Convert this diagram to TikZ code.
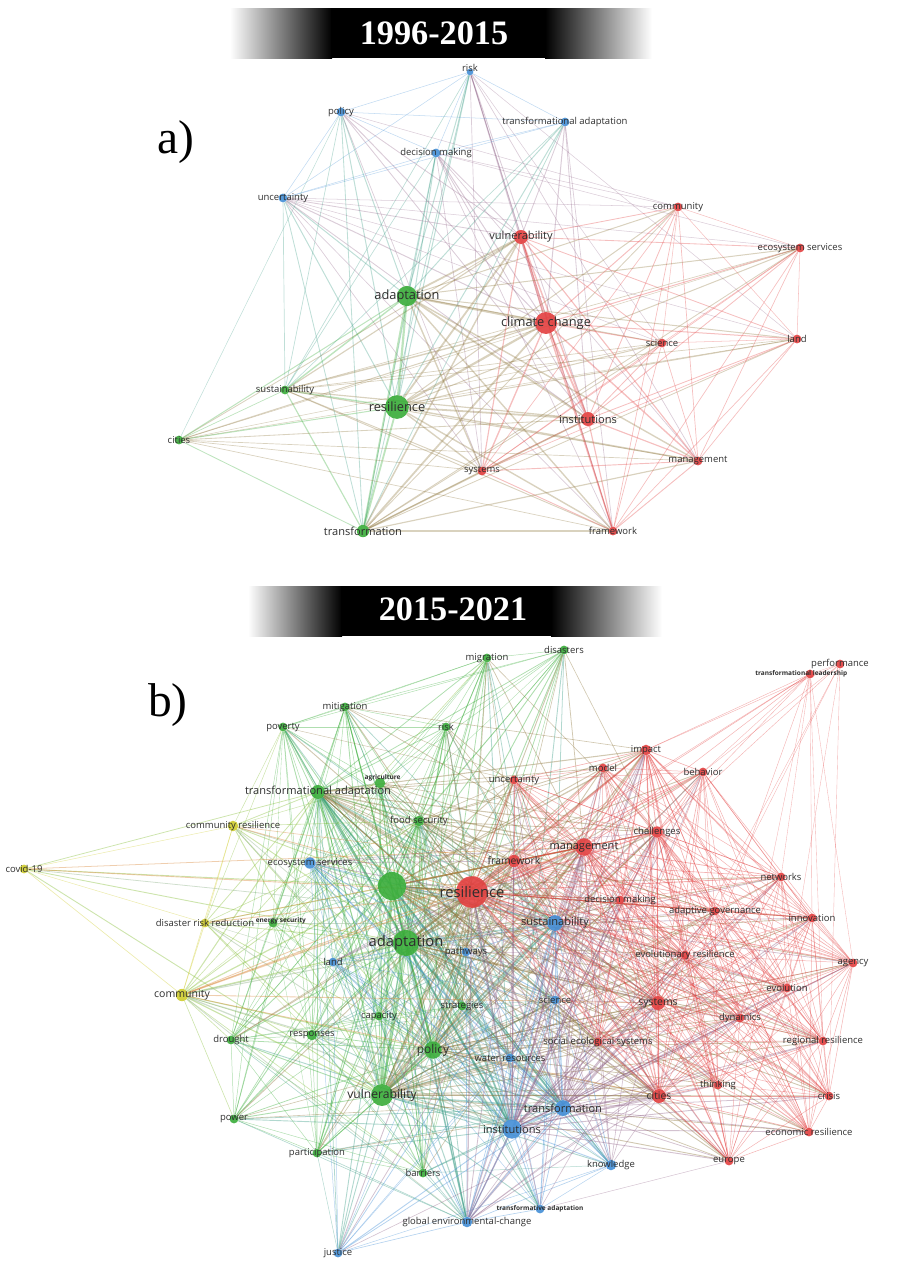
\documentclass[tikz,border=0pt]{standalone}
\usepackage{fontspec}
\setmainfont{Liberation Serif}
\newfontfamily\vos{Open Sans}
\usetikzlibrary{backgrounds}
\definecolor{vosred}{RGB}{226,62,62}
\definecolor{vosgreen}{RGB}{56,172,56}
\definecolor{vosblue}{RGB}{66,142,214}
\definecolor{vosyellow}{RGB}{206,204,44}
\tikzset{
  kw/.style={circle, inner sep=0pt, fill opacity=.9},
  kwR/.style={kw, fill=vosred},
  kwG/.style={kw, fill=vosgreen},
  kwB/.style={kw, fill=vosblue},
  kwY/.style={kw, fill=vosyellow},
  dotT/.style={minimum size=3.8pt},
  dotS/.style={minimum size=5pt},
  dotM/.style={minimum size=8pt},
  dotL/.style={minimum size=12.5pt},
  dotXL/.style={minimum size=17pt},
  lbl/.style={inner sep=0pt, text=black!82, text opacity=1, fill opacity=1},
  lblT/.style={lbl, font=\vos\bfseries\fontsize{3.7}{4}\selectfont},
  lblS/.style={lbl, font=\vos\fontsize{5.4}{6}\selectfont},
  lblM/.style={lbl, font=\vos\fontsize{6.3}{7}\selectfont},
  lblL/.style={lbl, font=\vos\fontsize{7.3}{8}\selectfont},
  lblXL/.style={lbl, font=\vos\fontsize{8.4}{9}\selectfont},
  eg/.style={draw opacity=.33, line cap=round},
  egb/.style={draw opacity=.4, line cap=round},
  yearlbl/.style={text=white, font=\bfseries\fontsize{19.5}{22}\selectfont},
  panellbl/.style={font=\fontsize{27}{30}\selectfont},
}
% keyword/colour/weight, for the links
\def\kwA{aRisk/vosblue/2, aPol/vosblue/2, aTA/vosblue/2, aDM/vosblue/2, aUnc/vosblue/2,
  aCom/vosred/2, aVul/vosred/4, aEco/vosred/2, aAda/vosgreen/5, aClim/vosred/5,
  aSci/vosred/2, aLand/vosred/2, aSus/vosgreen/3, aRes/vosgreen/5, aInst/vosred/4,
  aCit/vosgreen/2, aSys/vosred/3, aMan/vosred/3, aTra/vosgreen/4, aFra/vosred/3}
\def\kwB{bMig/vosgreen/2, bDis/vosgreen/2, bMit/vosgreen/2, bPov/vosgreen/2, bRisk/vosgreen/2,
  bAgr/vosgreen/2, bTA/vosgreen/4, bFood/vosgreen/3, bClim/vosgreen/5, bEner/vosgreen/1,
  bAda/vosgreen/5, bStr/vosgreen/2, bCap/vosgreen/2, bResp/vosgreen/2, bPol/vosgreen/4,
  bDro/vosgreen/2, bVul/vosgreen/5, bPow/vosgreen/2, bPart/vosgreen/2, bBar/vosgreen/2,
  bCR/vosyellow/2, bCov/vosyellow/2, bDRR/vosyellow/2, bCom/vosyellow/3,
  bEco/vosblue/2, bLand/vosblue/2, bPath/vosblue/2, bSus/vosblue/4, bSci/vosblue/2,
  bWat/vosblue/2, bTrf/vosblue/4, bInst/vosblue/5, bKno/vosblue/2, bGEC/vosblue/3,
  bTAd/vosblue/2, bJus/vosblue/2,
  bPerf/vosred/1, bTL/vosred/1, bImp/vosred/3, bMod/vosred/2, bBeh/vosred/2,
  bUnc/vosred/2, bCha/vosred/3, bMan/vosred/4, bFra/vosred/3, bRes/vosred/5,
  bNet/vosred/2, bDM/vosred/2, bAG/vosred/2, bInn/vosred/2, bEvR/vosred/2,
  bAge/vosred/2, bEvo/vosred/2, bSys/vosred/3, bDyn/vosred/2, bSES/vosred/2,
  bRR/vosred/2, bThi/vosred/2, bCit/vosred/3, bCri/vosred/2, bER/vosred/2, bEur/vosred/2}

\begin{document}
\begin{tikzpicture}[x=0.02cm, y=-0.02cm]
  \useasboundingbox (0,0) rectangle (902,1276);
  \pgfmathsetseed{11}

  % title bars
  \shade[left color=white, right color=black] (230,8) rectangle (332,58);
  \fill[black] (331,8) rectangle (546,58);
  \shade[left color=black, right color=white] (545,8) rectangle (652,58);
  \node[yearlbl] (yearA) at (434,33) {1996-2015};
  \shade[left color=white, right color=black] (248,586) rectangle (342,636);
  \fill[black] (341,586) rectangle (552,636);
  \shade[left color=black, right color=white] (551,586) rectangle (662,636);
  \node[yearlbl] (yearB) at (453,609) {2015-2021};
  \node[panellbl] (panA) at (176,142) {a)};
  \node[panellbl] (panB) at (168,705) {b)};

  % ---- a) 1996-2015
  \node[kwB, dotT, label={[lblS, yshift=2.5pt]center:risk}] (aRisk) at (470,72) {};
  \node[kwB, dotS, label={[lblS]center:policy}] (aPol) at (341,112) {};
  \node[kwB, dotS, label={[lblS]center:transformational adaptation}] (aTA) at (565,122) {};
  \node[kwB, dotS, label={[lblS]center:decision making}] (aDM) at (436,153) {};
  \node[kwB, dotS, label={[lblS]center:uncertainty}] (aUnc) at (283,198) {};
  \node[kwR, dotS, label={[lblS]center:community}] (aCom) at (678,207) {};
  \node[kwR, dotM, label={[lblM]center:vulnerability}] (aVul) at (521,237) {};
  \node[kwR, dotS, label={[lblS]center:ecosystem services}] (aEco) at (800,248) {};
  \node[kwG, dotL, minimum size=11.5pt, label={[lblL]center:adaptation}] (aAda) at (407,296) {};
  \node[kwR, dotL, label={[lblL]center:climate change}] (aClim) at (546,323) {};
  \node[kwR, dotS, label={[lblS]center:science}] (aSci) at (662,343) {};
  \node[kwR, dotS, label={[lblS]center:land}] (aLand) at (797,339) {};
  \node[kwG, dotS, label={[lblS]center:sustainability}] (aSus) at (285,390) {};
  \node[kwG, dotL, minimum size=13.5pt, label={[lblL]center:resilience}] (aRes) at (397,407) {};
  \node[kwR, dotM, label={[lblM]center:institutions}] (aInst) at (588,419) {};
  \node[kwG, dotS, label={[lblS]center:cities}] (aCit) at (179,440) {};
  \node[kwR, dotS, label={[lblS]center:systems}] (aSys) at (482,471) {};
  \node[kwR, dotS, label={[lblS]center:management}] (aMan) at (698,461) {};
  \node[kwG, dotM, minimum size=7pt, label={[lblM]center:transformation}] (aTra) at (363,531) {};
  \node[kwR, dotS, label={[lblS]center:framework}] (aFra) at (613,531) {};

  % ---- b) 2015-2021
  \node[kwG, dotS, label={[lblS]center:migration}] (bMig) at (487,658) {};
  \node[kwG, dotS, label={[lblS]center:disasters}] (bDis) at (564,650) {};
  \node[kwG, dotS, label={[lblS]center:mitigation}] (bMit) at (345,707) {};
  \node[kwG, dotS, label={[lblS]center:poverty}] (bPov) at (283,727) {};
  \node[kwG, dotS, label={[lblS]center:risk}] (bRisk) at (446,727) {};
  \node[kwG, dotS, minimum size=6pt, label={[lblT, yshift=-2.5pt, xshift=1.5pt]above:agriculture}] (bAgr) at (380,783) {};
  \node[kwG, dotM, label={[lblM]center:transformational adaptation}] (bTA) at (318,792) {};
  \node[kwG, dotS, minimum size=6pt, label={[lblS]center:food security}] (bFood) at (419,821) {};
  \node[kwG, dotXL, minimum size=16pt] (bClim) at (392,886) {};
  \node[kwG, dotS, label={[lblT, xshift=4.5pt, yshift=1.5pt]center:energy security}] (bEner) at (273,923) {};
  \node[kwG, dotXL, minimum size=15pt, label={[lblXL]center:adaptation}] (bAda) at (406,943) {};
  \node[kwG, dotS, label={[lblS]center:strategies}] (bStr) at (462,1006) {};
  \node[kwG, dotS, label={[lblS]center:capacity}] (bCap) at (379,1016) {};
  \node[kwG, dotS, minimum size=6pt, label={[lblS]center:responses}] (bResp) at (312,1035) {};
  \node[kwG, dotM, minimum size=10pt, label={[lblM, font=\vos\fontsize{6.8}{7}\selectfont]center:policy}] (bPol) at (433,1050) {};
  \node[kwG, dotS, label={[lblS]center:drought}] (bDro) at (231,1040) {};
  \node[kwG, dotL, label={[lblM, font=\vos\fontsize{6.9}{7}\selectfont]center:vulnerability}] (bVul) at (382,1095) {};
  \node[kwG, dotS, label={[lblS]center:power}] (bPow) at (234,1119) {};
  \node[kwG, dotS, label={[lblS]center:participation}] (bPart) at (317,1153) {};
  \node[kwG, dotS, label={[lblS]center:barriers}] (bBar) at (423,1173) {};
  \node[kwY, dotS, minimum size=6pt, label={[lblS]center:community resilience}] (bCR) at (233,826) {};
  \node[kwY, dotS, label={[lblS]center:covid-19}] (bCov) at (24,869) {};
  \node[kwY, dotS, label={[lblS]center:disaster risk reduction}] (bDRR) at (205,923) {};
  \node[kwY, dotM, minimum size=7pt, label={[lblS, font=\vos\fontsize{6}{7}\selectfont]center:community}] (bCom) at (182,995) {};
  \node[kwB, dotS, minimum size=6.5pt, label={[lblS]center:ecosystem services}] (bEco) at (310,863) {};
  \node[kwB, dotS, label={[lblS]center:land}] (bLand) at (333,962) {};
  \node[kwB, dotS, label={[lblS]center:pathways}] (bPath) at (466,952) {};
  \node[kwB, dotM, minimum size=9pt, label={[lblM]center:sustainability}] (bSus) at (555,923) {};
  \node[kwB, dotS, label={[lblS]center:science}] (bSci) at (555,1000) {};
  \node[kwB, dotS, label={[lblS]center:water resources}] (bWat) at (510,1058) {};
  \node[kwB, dotM, minimum size=9pt, label={[lblM]center:transformation}] (bTrf) at (563,1108) {};
  \node[kwB, dotL, minimum size=11pt, label={[lblM]center:institutions}] (bInst) at (512,1129) {};
  \node[kwB, dotS, minimum size=6pt, label={[lblS]center:knowledge}] (bKno) at (611,1165) {};
  \node[kwB, dotS, minimum size=6pt, label={[lblS]center:global environmental-change}] (bGEC) at (467,1222) {};
  \node[kwB, dotS, label={[lblT]center:transformative adaptation}] (bTAd) at (540,1209) {};
  \node[kwB, dotS, label={[lblS]center:justice}] (bJus) at (338,1253) {};
  \node[kwR, dotS, label={[lblS]center:performance}] (bPerf) at (840,664) {};
  \node[kwR, dotS, label={[lblT, xshift=-5pt]center:transformational leadership}] (bTL) at (810,674) {};
  \node[kwR, dotS, minimum size=6pt, label={[lblS]center:impact}] (bImp) at (646,750) {};
  \node[kwR, dotS, label={[lblS]center:model}] (bMod) at (603,768) {};
  \node[kwR, dotS, label={[lblS]center:behavior}] (bBeh) at (703,772) {};
  \node[kwR, dotS, label={[lblS]center:uncertainty}] (bUnc) at (514,780) {};
  \node[kwR, dotS, minimum size=6.5pt, label={[lblS]center:challenges}] (bCha) at (657,832) {};
  \node[kwR, dotM, minimum size=10pt, label={[lblM]center:management}] (bMan) at (584,847) {};
  \node[kwR, dotM, minimum size=7pt, label={[lblS, font=\vos\fontsize{5.9}{7}\selectfont]center:framework}] (bFra) at (514,861) {};
  \node[kwR, dotXL, minimum size=18pt, label={[lblXL]center:resilience}] (bRes) at (472,892) {};
  \node[kwR, dotS, label={[lblS]center:networks}] (bNet) at (781,877) {};
  \node[kwR, dotS, label={[lblS]center:decision making}] (bDM) at (620,900) {};
  \node[kwR, dotS, label={[lblS]center:adaptive governance}] (bAG) at (715,911) {};
  \node[kwR, dotS, label={[lblS]center:innovation}] (bInn) at (812,918) {};
  \node[kwR, dotS, label={[lblS]center:evolutionary resilience}] (bEvR) at (685,955) {};
  \node[kwR, dotS, label={[lblS]center:agency}] (bAge) at (853,963) {};
  \node[kwR, dotS, label={[lblS]center:evolution}] (bEvo) at (787,988) {};
  \node[kwR, dotM, label={[lblS, font=\vos\fontsize{5.9}{7}\selectfont]center:systems}] (bSys) at (658,1003) {};
  \node[kwR, dotS, label={[lblS]center:dynamics}] (bDyn) at (740,1018) {};
  \node[kwR, dotS, label={[lblS]center:social ecological systems}] (bSES) at (598,1042) {};
  \node[kwR, dotS, label={[lblS]center:regional resilience}] (bRR) at (823,1041) {};
  \node[kwR, dotS, label={[lblS]center:thinking}] (bThi) at (718,1085) {};
  \node[kwR, dotM, label={[lblS, font=\vos\fontsize{5.9}{7}\selectfont]center:cities}] (bCit) at (659,1096) {};
  \node[kwR, dotS, label={[lblS]center:crisis}] (bCri) at (829,1096) {};
  \node[kwR, dotS, label={[lblS]center:economic resilience}] (bER) at (809,1132) {};
  \node[kwR, dotS, label={[lblS]center:europe}] (bEur) at (729,1161) {};

  % co-occurrence links
  \begin{scope}[on background layer]
    \foreach \a/\ca/\wa [count=\i] in \kwA {
      \foreach \b/\cb/\wb [count=\j] in \kwA {
        \ifnum\j>\i
          \pgfpointdiff{\pgfpointanchor{\a}{center}}{\pgfpointanchor{\b}{center}}
          \pgfgetlastxy{\dx}{\dy}
          \ifx\ca\cb\def\bon{4}\else\def\bon{0}\fi
          \pgfmathsetmacro\sc{\wa*\wb+\bon+6*rnd-veclen(\dx,\dy)/113}
          \pgfmathsetmacro\lw{0.12+0.045*\wa*\wb}
          \ifdim\sc pt>5pt
            \draw[eg, draw=\ca!50!\cb, line width=\lw pt] (\a) -- (\b);
          \fi
        \fi
      }
    }
    \foreach \a/\ca/\wa [count=\i] in \kwB {
      \foreach \b/\cb/\wb [count=\j] in \kwB {
        \ifnum\j>\i
          \pgfpointdiff{\pgfpointanchor{\a}{center}}{\pgfpointanchor{\b}{center}}
          \pgfgetlastxy{\dx}{\dy}
          \ifx\ca\cb\def\bon{4}\else\def\bon{0}\fi
          \pgfmathsetmacro\sc{\wa*\wb+\bon+5*rnd-veclen(\dx,\dy)/56.7}
          \pgfmathsetmacro\lw{0.12+0.04*\wa*\wb}
          \ifdim\sc pt>6pt
            \draw[egb, draw=\ca!50!\cb, line width=\lw pt] (\a) -- (\b);
          \fi
        \fi
      }
    }
  \end{scope}
\end{tikzpicture}
\end{document}
